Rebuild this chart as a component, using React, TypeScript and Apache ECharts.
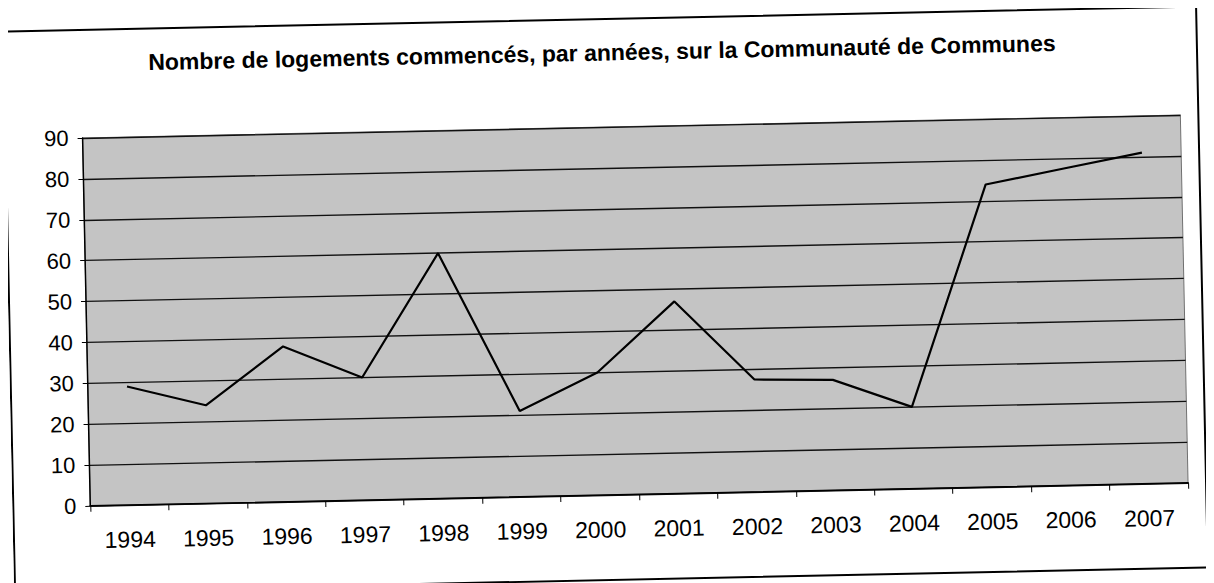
import React, { useEffect, useRef } from "react";
import * as echarts from "echarts";

const TITLE = "Nombre de logements commencés, par années, sur la Communauté de Communes";
const years = ["1994", "1995", "1996", "1997", "1998", "1999", "2000", "2001", "2002", "2003", "2004", "2005", "2006", "2007"];
const logements = [29, 24, 38, 30, 60, 21, 30, 47, 27.5, 27, 20, 74, 77.5, 81];
const yMin = 0;
const yMax = 90;
const yStep = 10;

export default function App() {
  const ref = useRef<HTMLDivElement>(null);
  useEffect(() => {
    if (!ref.current) return;
    const chart = echarts.init(ref.current, null, { renderer: "svg" });
    chart.setOption({
      animation: false,
      backgroundColor: "#ffffff",
      title: {
        text: TITLE,
        left: "center",
        top: 28,
        textStyle: { fontFamily: "Liberation Sans, Arial, sans-serif", fontSize: 23, fontWeight: "bold", color: "#000" },
      },
      graphic: [
        {
          type: "rect",
          shape: { x: 1, y: 11, width: 1193, height: 561 },
          style: { fill: "none", stroke: "#000", lineWidth: 2 },
          silent: true,
          z: -1,
        },
      ],
      grid: {
        left: 78,
        right: 1198 - 1176,
        top: 119,
        bottom: 575 - 487,
        show: true,
        backgroundColor: "#c4c4c4",
        borderColor: "#707070",
        borderWidth: 1,
      },
      xAxis: {
        type: "category",
        data: years,
        boundaryGap: true,
        axisLine: { lineStyle: { color: "#000", width: 1.5 } },
        axisTick: { show: true, interval: 0, length: 6, lineStyle: { color: "#000" } },
        axisLabel: { interval: 0, margin: 23, fontFamily: "Liberation Sans, Arial, sans-serif", fontSize: 23, color: "#000" },
        splitLine: { show: false },
      },
      yAxis: {
        type: "value",
        min: yMin,
        max: yMax,
        interval: yStep,
        axisLine: { show: true, lineStyle: { color: "#000", width: 1.5 } },
        axisTick: { show: true, length: 5, lineStyle: { color: "#000" } },
        axisLabel: { margin: 14, fontFamily: "Liberation Sans, Arial, sans-serif", fontSize: 22, color: "#000" },
        splitLine: { show: true, lineStyle: { color: "#111", width: 1.4 } },
      },
      series: [
        {
          type: "line",
          data: logements,
          showSymbol: false,
          symbol: "none",
          lineStyle: { color: "#000", width: 2.2 },
        },
      ],
    });
    return () => chart.dispose();
  }, []);
  return (
    <div style={{ width: 1198, height: 575, overflow: "hidden", background: "#fff" }}>
      <div
        ref={ref}
        style={{ width: 1198, height: 575, transform: "rotate(-1.2deg)", transformOrigin: "50% 50%" }}
      />
    </div>
  );
}
